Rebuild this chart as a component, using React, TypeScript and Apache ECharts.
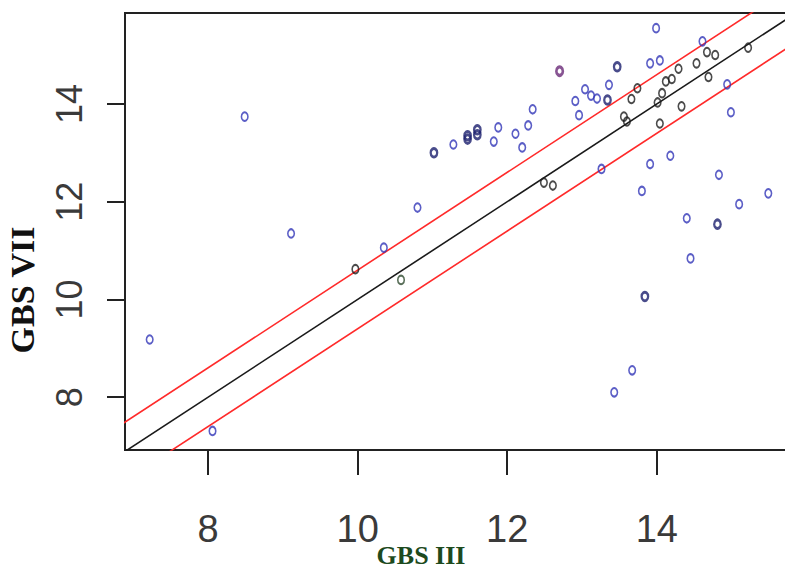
import React, { useEffect, useRef } from "react";
import * as echarts from "echarts";

// ---- data (GBS III on x, GBS VII on y) ----
const xTicks = [8, 10, 12, 14];
const yTicks = [8, 10, 12, 14];

const bluePoints: number[][] = [
  [13.99, 15.55], [14.61, 15.28], [13.91, 14.83], [14.04, 14.89], [13.36, 14.39],
  [13.04, 14.3], [13.12, 14.17], [13.2, 14.11], [12.91, 14.06], [12.96, 13.77],
  [12.34, 13.89], [12.28, 13.56], [12.11, 13.39], [12.2, 13.11], [11.88, 13.52],
  [11.82, 13.23], [11.28, 13.17], [10.8, 11.88], [10.35, 11.06], [13.26, 12.67],
  [14.94, 14.4], [14.99, 13.83], [14.18, 12.94], [13.91, 12.77], [13.8, 12.22],
  [14.83, 12.55], [15.49, 12.17], [15.1, 11.95], [14.4, 11.66], [14.45, 10.84],
  [13.67, 8.55], [13.43, 8.1], [8.49, 13.74], [9.11, 11.35], [7.22, 9.18], [8.06, 7.31],
];

const navyPoints: number[][] = [
  [13.47, 14.76], [13.34, 14.08], [11.6, 13.47], [11.6, 13.37], [11.47, 13.35],
  [11.47, 13.28], [11.02, 13.0], [14.81, 11.54], [13.84, 10.06],
];

const purplePoints: number[][] = [[12.7, 14.67]];

const blackPoints: number[][] = [
  [9.97, 10.62], [12.49, 12.39], [12.61, 12.33], [13.56, 13.74], [13.6, 13.64],
  [13.66, 14.1], [13.74, 14.32], [14.01, 14.03], [14.07, 14.22], [14.12, 14.46],
  [14.2, 14.51], [14.29, 14.72], [14.33, 13.95], [14.04, 13.6], [14.53, 14.83],
  [14.67, 15.06], [14.78, 15.0], [14.69, 14.55], [15.22, 15.15],
];

const greenPoints: number[][] = [[10.58, 10.4]];

// reference line y = x and band y = x ± offset
const lineEnds = [6.5, 16.5];
const bandOffset = 0.6;

const identityLine = lineEnds.map((v) => [v, v]);
const upperLine = lineEnds.map((v) => [v, v + bandOffset]);
const lowerLine = lineEnds.map((v) => [v, v - bandOffset]);

const scatter = (data: number[][], color: string, bw: number) => ({
  type: "scatter",
  data,
  symbol: "circle",
  symbolSize: [6.5, 8.5],
  itemStyle: { color: "rgba(0,0,0,0)", borderColor: color, borderWidth: bw },
  z: 5,
});

const SANS = "'Liberation Sans', Arial, sans-serif";
const SERIF = "'Liberation Serif', 'Times New Roman', serif";

export default function App() {
  const ref = useRef<HTMLDivElement>(null);
  useEffect(() => {
    if (!ref.current) return;
    const chart = echarts.init(ref.current, null, { renderer: "svg" });
    chart.setOption({
      animation: false,
      backgroundColor: "#ffffff",
      textStyle: { fontFamily: SANS },
      grid: {
        left: 125,
        top: 13,
        width: 665,
        height: 437,
        show: true,
        borderColor: "#222",
        borderWidth: 2,
        containLabel: false,
        outerBoundsMode: "none",
      },
      xAxis: {
        type: "value",
        min: 6.89,
        max: 15.78,
        name: "GBS III",
        nameLocation: "middle",
        nameGap: 92,
        nameMoveOverlap: false,
        nameTextStyle: {
          fontFamily: SERIF,
          fontWeight: "bold",
          fontSize: 26,
          color: "#1d4a1d",
          padding: [0, 73, 0, 0],
        },
        axisLine: { show: true, onZero: false, lineStyle: { color: "#222", width: 2 } },
        axisTick: {
          show: true,
          customValues: xTicks,
          length: 25,
          lineStyle: { color: "#222", width: 2 },
        },
        axisLabel: {
          customValues: xTicks,
          margin: 60,
          fontFamily: SANS,
          fontSize: 38,
          color: "#3a3a3a",
        },
        splitLine: { show: false },
      },
      yAxis: {
        type: "value",
        min: 6.92,
        max: 15.86,
        name: "GBS VII",
        nameLocation: "middle",
        nameGap: 86,
        nameMoveOverlap: false,
        nameRotate: 90,
        nameTextStyle: {
          fontFamily: SERIF,
          fontWeight: "bold",
          fontSize: 34,
          color: "#111",
          padding: [0, 117, 0, 0],
        },
        axisLine: { show: true, onZero: false, lineStyle: { color: "#222", width: 2 } },
        axisTick: {
          show: true,
          customValues: yTicks,
          length: 18,
          lineStyle: { color: "#222", width: 2 },
        },
        axisLabel: {
          customValues: yTicks,
          rotate: 90,
          margin: 38,
          fontFamily: SANS,
          fontSize: 36,
          color: "#3a3a3a",
        },
        splitLine: { show: false },
      },
      series: [
        {
          type: "line",
          data: identityLine,
          symbol: "none",
          lineStyle: { color: "#1a1a1a", width: 1.6 },
          z: 3,
        },
        {
          type: "line",
          data: upperLine,
          symbol: "none",
          lineStyle: { color: "#ff2a2a", width: 1.6 },
          z: 3,
        },
        {
          type: "line",
          data: lowerLine,
          symbol: "none",
          lineStyle: { color: "#ff2a2a", width: 1.6 },
          z: 3,
        },
        scatter(bluePoints, "#3236b8", 1.8),
        scatter(navyPoints, "#1c1f6e", 2.6),
        scatter(purplePoints, "#6a2a78", 3),
        scatter(blackPoints, "#1e1e1e", 1.8),
        scatter(greenPoints, "#2e4a2e", 1.8),
      ],
    });
    return () => chart.dispose();
  }, []);
  return (
    <div
      ref={ref}
      style={{ position: "fixed", left: 0, top: 0, width: 785, height: 568 }}
    />
  );
}
